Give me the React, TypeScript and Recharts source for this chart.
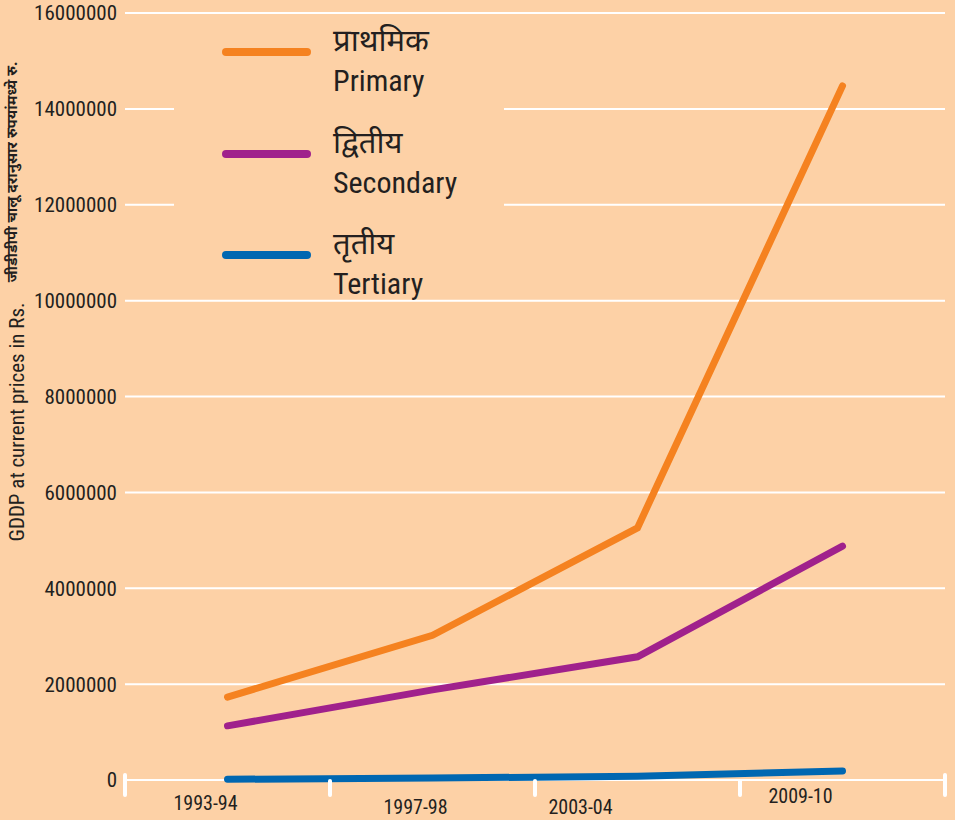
import React from "react";
import {
  LineChart,
  Line,
  XAxis,
  YAxis,
  CartesianGrid,
} from "recharts";

const categories = ["1993-94", "1997-98", "2003-04", "2009-10"];
const primaryValues = [1730000, 3020000, 5260000, 14480000];
const secondaryValues = [1130000, 1880000, 2570000, 4880000];
const tertiaryValues = [15000, 40000, 80000, 190000];
const yTicks = [0, 2000000, 4000000, 6000000, 8000000, 10000000, 12000000, 14000000, 16000000];

const seriesKeys = ["primary", "secondary", "tertiary"];
const seriesHindi = ["प्राथमिक", "द्वितीय", "तृतीय"];
const seriesEnglish = ["Primary", "Secondary", "Tertiary"];
const seriesColors = ["#F58220", "#A0218C", "#0067B1"];

const data = categories.map((c, i) => ({
  year: c,
  primary: primaryValues[i],
  secondary: secondaryValues[i],
  tertiary: tertiaryValues[i],
}));

const BG = "#FDD1A6";
const TEXT = "#231F20";
const FONT = "'Liberation Sans Narrow', 'Roboto Condensed', 'Liberation Sans', Arial, sans-serif";
const DEVA = "'Noto Sans Devanagari', 'Lohit Devanagari', 'Noto Sans', sans-serif";

const PLOT_W = 820;
// label nudges, the printed chart has them slightly off centre
const tickNudge = [
  { dx: -22, dy: 0 },
  { dx: -17, dy: 4 },
  { dx: -57, dy: 4 },
  { dx: -42, dy: -7 },
];

const XTick = (props: any) => {
  const { x, y, payload, index } = props;
  const band = PLOT_W / categories.length;
  const n = tickNudge[index] || { dx: 0, dy: 0 };
  const axisY = y - 8;
  const last = index === categories.length - 1;
  return (
    <g>
      <line x1={x - band / 2} x2={x - band / 2} y1={index === 0 ? axisY - 5 : axisY + 1} y2={axisY + 15} stroke="#fff" strokeWidth={4} strokeLinecap="round" />
      {last && (
        <line x1={x + band / 2} x2={x + band / 2} y1={axisY - 5} y2={axisY + 15} stroke="#fff" strokeWidth={4} strokeLinecap="round" />
      )}
      <text x={x + n.dx} y={axisY + 23 + n.dy} textAnchor="middle" dominantBaseline="central" fill={TEXT} fontSize={20} fontFamily={FONT}>
        {payload.value}
      </text>
    </g>
  );
};

const YLabels = () => {
  return (
    <g>
      <text
        transform="translate(17, 422) rotate(-90)"
        textAnchor="middle"
        dominantBaseline="central"
        fill={TEXT}
        fontSize={21}
        fontFamily={FONT}
      >
        GDDP at current prices in Rs.
      </text>
      <text
        transform="translate(13, 172) rotate(-90)"
        textAnchor="middle"
        dominantBaseline="central"
        fill={TEXT}
        fontSize={15}
        fontWeight="bold"
        fontFamily={DEVA}
      >
        जीडीडीपी चालू दरानुसार रुपयांमध्ये रु.
      </text>
    </g>
  );
};

const LegendBox = () => (
  <div style={{ position: "absolute", left: 174, top: 15, width: 330, height: 283, background: BG }}>
    {seriesKeys.map((k, i) => (
      <div key={k} style={{ position: "absolute", left: 0, top: i * 101.5, width: 330, height: 100 }}>
        <svg width={100} height={20} style={{ position: "absolute", left: 44, top: 27 }}>
          <line x1={8} x2={89} y1={10} y2={10} stroke={seriesColors[i]} strokeWidth={8} strokeLinecap="round" />
        </svg>
        <div style={{ position: "absolute", left: 159, top: 10, fontFamily: DEVA, fontSize: 31, color: TEXT, lineHeight: "38px", whiteSpace: "nowrap" }}>
          {seriesHindi[i]}
        </div>
        <div style={{ position: "absolute", left: 159, top: 48, fontFamily: FONT, fontSize: 30, color: TEXT, lineHeight: "36px", whiteSpace: "nowrap" }}>
          {seriesEnglish[i]}
        </div>
      </div>
    ))}
  </div>
);

export default function App() {
  return (
    <div style={{ width: 955, height: 820, background: BG, position: "relative" }}>
      <style>{"body{margin:0}"}</style>
      <LineChart width={955} height={820} data={data} margin={{ top: 13, right: 10, bottom: 0, left: 0 }}>
        <CartesianGrid vertical={false} stroke="#fff" strokeWidth={2} />
        <XAxis
          dataKey="year"
          scale="band"
          height={40}
          axisLine={false}
          tickLine={false}
          tick={<XTick />}
          interval={0}
        />
        <YAxis
          width={125}
          domain={[0, 16000000]}
          ticks={yTicks}
          axisLine={false}
          tickLine={false}
          tick={{ fill: TEXT, fontSize: 21, fontFamily: FONT }}
          label={{ content: <YLabels /> }}
        />
        {seriesKeys.map((k, i) => (
          <Line
            key={k}
            type="linear"
            dataKey={k}
            name={seriesEnglish[i]}
            stroke={seriesColors[i]}
            strokeWidth={7}
            strokeLinecap="round"
            strokeLinejoin="miter"
            dot={false}
            activeDot={false}
            isAnimationActive={false}
          />
        ))}
      </LineChart>
      <LegendBox />
    </div>
  );
}
